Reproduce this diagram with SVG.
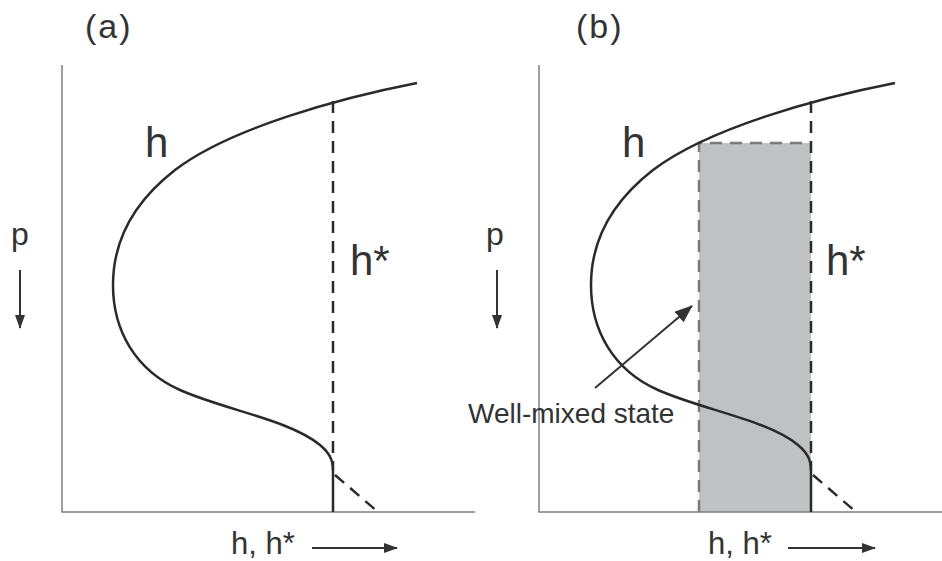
<svg xmlns="http://www.w3.org/2000/svg" width="942" height="561" viewBox="0 0 942 561">
  <style>
    .axis { stroke: #7f7f7f; stroke-width: 1.5; fill: none; }
    .curve { stroke: #2a2a2a; stroke-width: 2.5; fill: none; }
    .dash { stroke: #2a2a2a; stroke-width: 2.5; fill: none; stroke-dasharray: 12 8; }
    .rectdash { stroke: #7a7a7a; stroke-width: 2.5; fill: none; stroke-dasharray: 12 8; }
    .arrow { stroke: #333; stroke-width: 2; fill: none; }
    text { font-family: "Liberation Sans", Arial, sans-serif; fill: #333; }
    .panel { font-size: 34px; letter-spacing: 2px; }
    .big { font-size: 42px; }
    .p { font-size: 32px; }
    .ax { font-size: 31px; }
    .wm { font-size: 28px; }
  </style>
  <defs>
    <marker id="ah" viewBox="0 0 14 10" refX="13" refY="5" markerWidth="14" markerHeight="10" orient="auto" markerUnits="userSpaceOnUse">
      <path d="M0,0 L14,5 L0,10 z" fill="#333"/>
    </marker>
    <marker id="ahb" viewBox="0 0 18 14" refX="17" refY="7" markerWidth="18" markerHeight="14" orient="auto" markerUnits="userSpaceOnUse">
      <path d="M0,0 L18,7 L0,14 z" fill="#333"/>
    </marker>
    <path id="hcurve" d="M417,83 C340,98 230,128 175,170 C130,205 113,245 113,285 C113,330 135,370 180,390 C225,410 290,420 320,445 C332,455 333,463 333,472 L333,512"/>
  </defs>

  <g id="panel-a">
    <path class="axis" d="M62,65 L62,512 L475,512"/>
    <line class="dash" x1="333" y1="101" x2="333" y2="470"/>
    <line class="dash" x1="335" y1="475" x2="378" y2="512"/>
    <use href="#hcurve" class="curve"/>
    <text class="panel" x="85" y="38">(a)</text>
    <text class="big" x="145" y="157">h</text>
    <text class="big" x="350" y="275">h*</text>
    <text class="p" x="11" y="245">p</text>
    <text class="ax" x="231" y="554">h, h*</text>
  </g>

  <g id="panel-b">
    <rect x="699" y="143" width="112" height="369" fill="#c0c1c3"/>
    <path class="rectdash" d="M699,512 L699,143 L811,143"/>
    <path class="axis" d="M539,65 L539,512 L942,512"/>
    <line class="dash" x1="811" y1="101" x2="811" y2="470"/>
    <line class="dash" x1="813" y1="475" x2="856" y2="512"/>
    <use href="#hcurve" class="curve" transform="translate(478,0)"/>
    <text class="panel" x="576" y="38">(b)</text>
    <text class="big" x="622" y="157">h</text>
    <text class="big" x="826" y="275">h*</text>
    <text class="p" x="486" y="245">p</text>
    <text class="ax" x="708" y="554">h, h*</text>
    <text class="wm" x="468" y="423">Well-mixed state</text>
  </g>

  <g id="connectors">
    <line class="arrow" x1="20" y1="270" x2="20" y2="328" marker-end="url(#ah)"/>
    <line class="arrow" x1="312" y1="548" x2="397" y2="548" marker-end="url(#ah)"/>
    <line class="arrow" x1="497" y1="270" x2="497" y2="328" marker-end="url(#ah)"/>
    <line class="arrow" x1="788" y1="548" x2="875" y2="548" marker-end="url(#ah)"/>
    <line class="arrow" x1="595" y1="388" x2="692" y2="306" stroke-width="2.5" marker-end="url(#ahb)"/>
  </g>
</svg>
